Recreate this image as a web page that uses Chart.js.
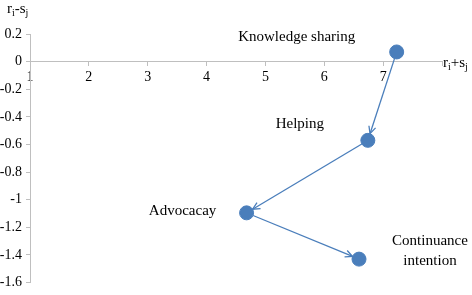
<!DOCTYPE html>
<html>
<head>
<meta charset="utf-8">
<script src="https://cdn.jsdelivr.net/npm/chart.js@4/dist/chart.umd.min.js"></script>
<style>
  html, body { margin: 0; padding: 0; background: #fff; }
  #wrap { width: 472px; height: 295px; }
</style>
</head>
<body>
<div id="wrap"><canvas id="chart"></canvas></div>
<script>
// data
var factors = ['Knowledge sharing', 'Helping', 'Advocacay', 'Continuance intention'];
var rPlusS = [7.23, 6.74, 4.68, 6.59];
var rMinusS = [0.07, -0.57, -1.095, -1.43];
var xTicks = [1, 2, 3, 4, 5, 6, 7, 8];
var yTicks = [0.2, 0, -0.2, -0.4, -0.6, -0.8, -1, -1.2, -1.4, -1.6];

var blue = '#4a7ebb';
var axisGray = '#bfbfbf';
var serif = '"Liberation Serif", "Times New Roman", Times, serif';

var points = rPlusS.map(function (x, i) { return { x: x, y: rMinusS[i] }; });

// label offsets from the marker, in px (one pair per text line)
var labelOffsets = [
  [[-100, -15]],
  [[-68, -16]],
  [[-64, -2]],
  [[71, -18], [71, 2]]
];
var labelLines = [['Knowledge sharing'], ['Helping'], ['Advocacay'], ['Continuance', 'intention']];

// arrows between successive factors, drawn under the markers
var arrowPlugin = {
  id: 'arrows',
  beforeDatasetsDraw: function (chart) {
    var ctx = chart.ctx;
    var pts = chart.getDatasetMeta(0).data;
    var r = 7;
    ctx.save();
    ctx.strokeStyle = blue;
    ctx.lineWidth = 1.3;
    for (var i = 0; i < pts.length - 1; i++) {
      var a = pts[i], b = pts[i + 1];
      var dx = b.x - a.x, dy = b.y - a.y;
      var len = Math.sqrt(dx * dx + dy * dy);
      var ux = dx / len, uy = dy / len;
      var ex = b.x - ux * r, ey = b.y - uy * r;
      ctx.beginPath();
      ctx.moveTo(a.x + ux * r, a.y + uy * r);
      ctx.lineTo(ex, ey);
      ctx.stroke();
      var ang = Math.atan2(dy, dx);
      var h = 8, spread = 0.45;
      ctx.beginPath();
      ctx.moveTo(ex - h * Math.cos(ang - spread), ey - h * Math.sin(ang - spread));
      ctx.lineTo(ex, ey);
      ctx.lineTo(ex - h * Math.cos(ang + spread), ey - h * Math.sin(ang + spread));
      ctx.stroke();
    }
    ctx.restore();
  },
  afterDatasetsDraw: function (chart) {
    var ctx = chart.ctx;
    var pts = chart.getDatasetMeta(0).data;
    ctx.save();
    ctx.fillStyle = '#000';
    ctx.font = '15px ' + serif;
    ctx.textAlign = 'center';
    ctx.textBaseline = 'middle';
    pts.forEach(function (p, i) {
      labelLines[i].forEach(function (line, j) {
        var off = labelOffsets[i][j];
        ctx.fillText(line, p.x + off[0], p.y + off[1]);
      });
    });

    // axis titles with subscripts
    function subTitle(x, y, parts) {
      ctx.textAlign = 'left';
      ctx.textBaseline = 'alphabetic';
      var cx = x;
      parts.forEach(function (pt) {
        ctx.font = (pt.sub ? '10px ' : '15px ') + serif;
        ctx.fillText(pt.t, cx, y + (pt.sub ? 3 : 0));
        cx += ctx.measureText(pt.t).width;
      });
    }
    subTitle(7, 13, [{ t: 'r' }, { t: 'i', sub: true }, { t: '-s' }, { t: 'j', sub: true }]);
    subTitle(443, 67, [{ t: 'r' }, { t: 'i', sub: true }, { t: '+s' }, { t: 'j', sub: true }]);
    ctx.restore();
  }
};

new Chart(document.getElementById('chart'), {
  type: 'scatter',
  data: {
    labels: factors,
    datasets: [{
      data: points,
      pointRadius: 7,
      pointHoverRadius: 7,
      pointBackgroundColor: blue,
      pointBorderColor: blue,
      showLine: false
    }]
  },
  options: {
    responsive: true,
    maintainAspectRatio: false,
    animation: false,
    events: [],
    layout: { padding: { top: 34, right: 30, bottom: 8, left: 0 } },
    plugins: { legend: { display: false }, tooltip: { enabled: false } },
    scales: {
      x: {
        type: 'linear',
        position: { y: 0 },
        min: xTicks[0],
        max: xTicks[xTicks.length - 1],
        afterBuildTicks: function (scale) {
          scale.ticks = xTicks.map(function (v) { return { value: v }; });
        },
        ticks: {
          color: '#000',
          font: { family: serif, size: 14 },
          padding: 3,
          maxRotation: 0,
          autoSkip: false,
          callback: function (v) { return v === 8 ? '' : v; }
        },
        grid: { drawOnChartArea: false, drawTicks: true, tickLength: 4, color: axisGray },
        border: { color: axisGray, width: 1 }
      },
      y: {
        type: 'linear',
        min: yTicks[yTicks.length - 1],
        max: yTicks[0],
        afterBuildTicks: function (scale) {
          scale.ticks = yTicks.map(function (v) { return { value: v }; });
        },
        afterFit: function (scale) { scale.width = 30; },
        ticks: {
          color: '#000',
          font: { family: serif, size: 14 },
          padding: 4,
          autoSkip: false,
          callback: function (v) { return String(Number(v.toFixed(1))); }
        },
        grid: { drawOnChartArea: false, drawTicks: true, tickLength: 4, color: axisGray },
        border: { color: axisGray, width: 1 }
      }
    }
  },
  plugins: [arrowPlugin]
});
</script>
</body>
</html>
